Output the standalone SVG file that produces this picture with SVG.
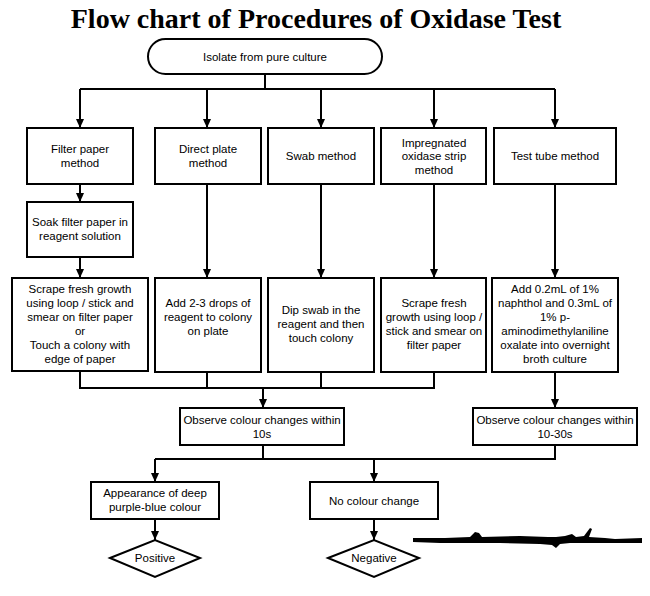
<svg xmlns="http://www.w3.org/2000/svg" width="650" height="596" viewBox="0 0 650 596">
<style>
.box{fill:#fff;stroke:#000;stroke-width:2}
.t{font-family:"Liberation Sans",Arial,sans-serif;font-size:11.5px;text-anchor:middle;fill:#000}
.c{fill:none;stroke:#000;stroke-width:2}
.title{font-family:"Liberation Serif","Times New Roman",serif;font-weight:bold;font-size:28px;text-anchor:middle;fill:#000}
</style>
<defs>
<marker id="ah" viewBox="0 0 9 8" refX="9" refY="4" markerWidth="9" markerHeight="8" markerUnits="userSpaceOnUse" orient="auto"><path d="M0,0 L9,4 L0,8 z" fill="#000"/></marker>
</defs>
<rect width="650" height="596" fill="#fff"/>
<text class="title" x="316" y="28">Flow chart of Procedures of Oxidase Test</text>

<g id="connectors">
<path class="c" d="M265,74 V89 M80,89 H555"/>
<path class="c" d="M80,89 V128" marker-end="url(#ah)"/>
<path class="c" d="M207,89 V128" marker-end="url(#ah)"/>
<path class="c" d="M321,89 V128" marker-end="url(#ah)"/>
<path class="c" d="M434,89 V128" marker-end="url(#ah)"/>
<path class="c" d="M555,89 V128" marker-end="url(#ah)"/>
<path class="c" d="M80,184 V202" marker-end="url(#ah)"/>
<path class="c" d="M80,257 V278" marker-end="url(#ah)"/>
<path class="c" d="M207,184 V278" marker-end="url(#ah)"/>
<path class="c" d="M321,184 V278" marker-end="url(#ah)"/>
<path class="c" d="M434,184 V278" marker-end="url(#ah)"/>
<path class="c" d="M555,184 V278" marker-end="url(#ah)"/>
<path class="c" d="M80,371 V388 H434 V372 M207,372 V388 M321,372 V388"/>
<path class="c" d="M263,388 V408" marker-end="url(#ah)"/>
<path class="c" d="M555,372 V408" marker-end="url(#ah)"/>
<path class="c" d="M263,445 V459 M155,459 H555 V445"/>
<path class="c" d="M155,459 V482" marker-end="url(#ah)"/>
<path class="c" d="M374,459 V482" marker-end="url(#ah)"/>
<path class="c" d="M155,519 V540" marker-end="url(#ah)"/>
<path class="c" d="M374,519 V540" marker-end="url(#ah)"/>
</g>

<g id="isolate"><rect class="box" x="148" y="39" width="234" height="35" rx="17.5"/><text class="t" x="265" y="61">Isolate from pure culture</text></g>

<g id="filter"><rect class="box" x="27" y="128" width="106" height="56"/><text class="t" x="80" y="153">Filter paper</text><text class="t" x="80" y="167">method</text></g>
<g id="direct"><rect class="box" x="155" y="128" width="106" height="56"/><text class="t" x="208" y="153">Direct plate</text><text class="t" x="208" y="167">method</text></g>
<g id="swab"><rect class="box" x="268" y="128" width="106" height="56"/><text class="t" x="321" y="160">Swab method</text></g>
<g id="strip"><rect class="box" x="381" y="128" width="105" height="56"/><text class="t" x="434" y="147">Impregnated</text><text class="t" x="434" y="160">oxidase strip</text><text class="t" x="434" y="174">method</text></g>
<g id="tube"><rect class="box" x="494" y="128" width="122" height="56"/><text class="t" x="555" y="160">Test tube method</text></g>

<g id="soak"><rect class="box" x="27" y="202" width="106" height="55"/><text class="t" x="80" y="226">Soak filter paper in</text><text class="t" x="80" y="240">reagent solution</text></g>

<g id="scrape1"><rect class="box" x="12" y="278" width="136" height="93"/>
<text class="t" x="80" y="293">Scrape fresh growth</text><text class="t" x="80" y="307">using loop / stick and</text><text class="t" x="80" y="321">smear on filter paper</text><text class="t" x="80" y="335">or</text><text class="t" x="80" y="349">Touch a colony with</text><text class="t" x="80" y="363">edge of paper</text></g>
<g id="add23"><rect class="box" x="155" y="278" width="106" height="94"/>
<text class="t" x="208" y="307">Add 2-3 drops of</text><text class="t" x="208" y="321">reagent to colony</text><text class="t" x="208" y="335">on plate</text></g>
<g id="dip"><rect class="box" x="268" y="278" width="106" height="94"/>
<text class="t" x="321" y="314">Dip swab in the</text><text class="t" x="321" y="328">reagent and then</text><text class="t" x="321" y="342">touch colony</text></g>
<g id="scrape4"><rect class="box" x="381" y="278" width="105" height="94"/>
<text class="t" x="434" y="307">Scrape fresh</text><text class="t" x="434" y="321">growth using loop /</text><text class="t" x="434" y="335">stick and smear on</text><text class="t" x="434" y="349">filter paper</text></g>
<g id="add02"><rect class="box" x="492" y="278" width="126" height="94"/>
<text class="t" x="555" y="293">Add 0.2mL of 1%</text><text class="t" x="555" y="307">naphthol and 0.3mL of</text><text class="t" x="555" y="321">1% p-</text><text class="t" x="555" y="335">aminodimethylaniline</text><text class="t" x="555" y="349">oxalate into overnight</text><text class="t" x="555" y="363">broth culture</text></g>

<g id="observe1"><rect class="box" x="180" y="408" width="164" height="37"/><text class="t" x="262" y="424">Observe colour changes within</text><text class="t" x="262" y="438">10s</text></g>
<g id="observe2"><rect class="box" x="473" y="408" width="164" height="37"/><text class="t" x="555" y="424">Observe colour changes within</text><text class="t" x="555" y="438">10-30s</text></g>

<g id="appearance"><rect class="box" x="91" y="482" width="128" height="37"/><text class="t" x="155" y="497">Appearance of deep</text><text class="t" x="155" y="511">purple-blue colour</text></g>
<g id="nochange"><rect class="box" x="310" y="482" width="128" height="37"/><text class="t" x="374" y="505">No colour change</text></g>

<g id="positive"><path class="box" d="M110,558 L155,540 L200,558 L155,577 Z"/><text class="t" x="155" y="562">Positive</text></g>
<g id="negative"><path class="box" d="M328,558 L374,540 L419,558 L374,577 Z"/><text class="t" x="374" y="562">Negative</text></g>

<path d="M413,538 L445,538 L470,537 L475,532 L479,533 L482,537 L520,536 L548,537 L556,537 L565,536 L572,534 L576,537 L584,536 L590,528 L592,529 L589,537 L605,538 L615,539 L642,538 L642,543 L620,543 L600,543 L585,543 L570,543 L560,544 L556,548 L552,545 L540,544 L500,543 L470,543 L440,543 L413,542 Z" fill="#000"/>
</svg>
